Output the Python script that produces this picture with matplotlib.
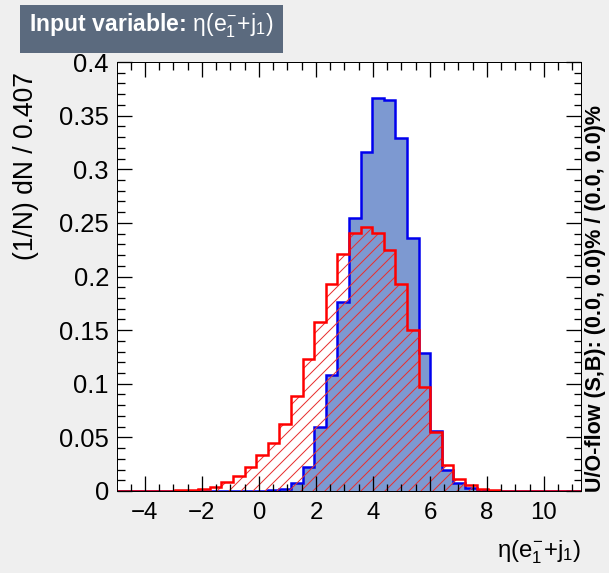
import numpy as np
import matplotlib
matplotlib.use("Agg")
import matplotlib.pyplot as plt
from matplotlib.ticker import MultipleLocator, FuncFormatter

# histogram binning (40 bins of width 0.407)
x_min = -4.98
bin_width = 0.407
n_bins = 40

# normalised signal (blue) and background (red) bin contents, (1/N) dN / 0.407
signal = [0, 0, 0, 0, 0, 0, 0, 0, 0, 0,
          0, 0, 0, 0.0005, 0.0015, 0.0078, 0.0227, 0.060, 0.108, 0.1765,
          0.255, 0.316, 0.366, 0.365, 0.329, 0.236, 0.129, 0.056, 0.020, 0.0078,
          0.003, 0.001, 0.0003, 0, 0, 0, 0, 0, 0, 0]
background = [0.0002, 0.0002, 0.0003, 0.0003, 0.0004, 0.0005, 0.001, 0.002, 0.004, 0.0087,
              0.014, 0.0227, 0.0336, 0.045, 0.0625, 0.089, 0.123, 0.158, 0.193, 0.221,
              0.241, 0.246, 0.241, 0.225, 0.193, 0.150, 0.097, 0.055, 0.0245, 0.011,
              0.0056, 0.0015, 0.001, 0.0003, 0.0002, 0, 0, 0, 0, 0]

title_text = r"Input variable: $\eta(e_{1}^{-}{+}j_{1})$"
x_title = r"$\eta(e_{1}^{-}{+}j_{1})$"
y_title = "(1/N) dN / 0.407"
flow_text = "U/O-flow (S,B): (0.0, 0.0)% / (0.0, 0.0)%"

edges = x_min + bin_width * np.arange(n_bins + 1)

plt.rcParams["font.family"] = ["Liberation Sans", "DejaVu Sans"]
plt.rcParams["mathtext.fontset"] = "custom"
plt.rcParams["mathtext.rm"] = "Liberation Sans"
plt.rcParams["mathtext.it"] = "Liberation Sans"
plt.rcParams["mathtext.bf"] = "Liberation Sans:bold"
plt.rcParams["hatch.linewidth"] = 1.0

W, H, DPI = 609, 573, 72
fig = plt.figure(figsize=(W / DPI, H / DPI), dpi=DPI, facecolor="#efefef")
ax = fig.add_axes([117 / W, 1 - 491 / H, (581 - 117) / W, (491 - 62) / H])
ax.set_facecolor("white")
ax.set_axisbelow(False)

# signal: filled blue
ax.stairs(signal, edges, fill=True, facecolor="#7d99d1", edgecolor="none", zorder=1.1)
ax.stairs(signal, edges, color="#0000ee", linewidth=2.5, zorder=1.2)

# background: red hatch drawn over the signal
ax.stairs(background, edges, fill=True, facecolor="none", edgecolor="#e8302f",
          hatch="//", linewidth=0, zorder=1.3)
ax.stairs(background, edges, color="#ff0000", linewidth=2.5, zorder=1.4)

ax.set_xlim(edges[0], edges[-1])
ax.set_ylim(0, 0.4)

ax.xaxis.set_major_locator(MultipleLocator(2))
ax.xaxis.set_minor_locator(MultipleLocator(0.5))
ax.yaxis.set_major_locator(MultipleLocator(0.05))
ax.yaxis.set_minor_locator(MultipleLocator(0.01))
ax.yaxis.set_major_formatter(FuncFormatter(lambda v, p: f"{v:g}"))

ax.tick_params(which="both", direction="in", top=True, right=True, width=1.3,
               color="black", labelcolor="black")
ax.tick_params(which="major", length=15)
ax.tick_params(which="minor", length=7.5)
ax.tick_params(axis="x", pad=11, labelsize=24)
ax.tick_params(axis="y", pad=8, labelsize=25.5)
for s in ax.spines.values():
    s.set_linewidth(1)

# title box
fig.patches.append(plt.Rectangle((20 / W, 1 - 52.5 / H), 263 / W, 48 / H,
                                 transform=fig.transFigure, facecolor="#5b6a7e",
                                 edgecolor="none"))
fig.text(29 / W, 1 - 31 / H, title_text, color="white", fontsize=23,
         fontweight="bold", ha="left", va="baseline")

fig.text(26 / W, 1 - 72 / H, y_title, rotation=90, ha="center", va="top", fontsize=26.5)
fig.text(581 / W, 1 - 557 / H, x_title, ha="right", va="baseline", fontsize=24)
fig.text(596 / W, 1 - 492 / H, flow_text, rotation=90, ha="center", va="bottom",
         fontsize=21.5, fontweight="bold")

fig.savefig("out.png", dpi=DPI, facecolor=fig.get_facecolor())
